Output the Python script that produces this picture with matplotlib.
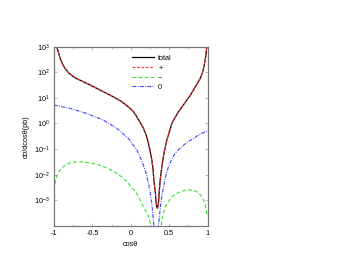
import numpy as np
import matplotlib
matplotlib.use("Agg")
from matplotlib import pyplot as plt
from matplotlib.ticker import FixedLocator, NullFormatter

plt.rcParams['font.family'] = ['Liberation Sans', 'DejaVu Sans']
plt.rcParams['mathtext.fontset'] = 'custom'
plt.rcParams['mathtext.rm'] = 'Liberation Sans'

# total (the "+" curve sits right on top of it), log10 values
cos_total = [-0.965, -0.94, -0.92, -0.89, -0.857, -0.81, -0.75, -0.69, -0.617, -0.487,
             -0.357, -0.226, -0.117, -0.009, 0.04, 0.078, 0.12, 0.165, 0.2, 0.23, 0.25,
             0.274, 0.29, 0.30, 0.32, 0.33, 0.34,
             0.35, 0.361, 0.372, 0.383, 0.40, 0.417, 0.44, 0.47, 0.50, 0.535, 0.58, 0.622,
             0.68, 0.73, 0.775, 0.817, 0.86, 0.904, 0.935, 0.957, 0.975, 0.991]
log_total = [3.0, 2.75, 2.54, 2.33, 2.15, 1.98, 1.83, 1.73, 1.63, 1.44,
             1.24, 1.04, 0.85, 0.59, 0.44, 0.26, 0.05, -0.19, -0.45, -0.78, -1.05,
             -1.43, -1.8, -2.2, -2.7, -3.1, -3.3,
             -3.3, -3.1, -2.6, -2.2, -1.8, -1.43, -1.05, -0.65, -0.35, 0.0, 0.25, 0.46,
             0.7, 0.91, 1.1, 1.31, 1.53, 1.76, 2.0, 2.28, 2.6, 3.0]

# "0" helicity
cos_zero = [-1.0, -0.79, -0.574, -0.357, -0.183, -0.03, 0.078, 0.12, 0.165, 0.2, 0.23,
            0.25, 0.274, 0.30, 0.335, 0.361, 0.39, 0.41, 0.435, 0.46, 0.49, 0.53, 0.578,
            0.63, 0.687, 0.75, 0.817, 0.87, 0.926, 0.96, 1.0]
log_zero = [0.72, 0.59, 0.39, 0.13, -0.19, -0.59, -1.04, -1.3, -1.63, -1.95, -2.35,
            -2.65, -3.13, -4.0, -6.0, -4.0, -3.13, -2.75, -2.35, -2.0, -1.7, -1.42, -1.17,
            -1.0, -0.85, -0.7, -0.59, -0.48, -0.39, -0.34, -0.29]

# "-" helicity
cos_minus = [-1.0, -0.985, -0.965, -0.94, -0.9, -0.86, -0.813, -0.74, -0.66, -0.53, -0.44,
             -0.357, -0.27, -0.183, -0.10, -0.03, 0.03, 0.078, 0.12, 0.165, 0.22, 0.265,
             0.333, 0.396, 0.42, 0.448, 0.49, 0.535, 0.59, 0.643, 0.71, 0.774, 0.82,
             0.861, 0.91, 0.948, 0.97, 0.991, 1.0]
log_minus = [-2.6, -2.3, -2.08, -1.9, -1.76, -1.64, -1.56, -1.51, -1.5, -1.54, -1.6,
             -1.69, -1.8, -1.95, -2.13, -2.35, -2.55, -2.74, -2.98, -3.26, -3.55, -4.0,
             -6.0, -4.0, -3.55, -3.26, -3.05, -2.87, -2.75, -2.67, -2.61, -2.6, -2.62,
             -2.67, -2.8, -3.0, -3.2, -3.52, -3.6]

ytick_exps = [-3, -2, -1, 0, 1, 2, 3]
xticks = [-1, -0.5, 0, 0.5, 1]
xtick_labels = ['-1', '-0.5', '0', '0.5', '1']

fig = plt.figure(figsize=(3.53, 2.73), dpi=100, facecolor='white')
ax = fig.add_axes([0.153, 0.173, 0.435, 0.656])

ax.plot(cos_total, 10.0 ** np.array(log_total), color='black', lw=0.9, label='total')
ax.plot(cos_total, 10.0 ** np.array(log_total), color='#ff3030', lw=0.8,
        dashes=(2.5, 1.5), label='+')
ax.plot(cos_minus, 10.0 ** np.array(log_minus), color='#33e633', lw=0.8,
        dashes=(3.5, 2), label='\u2013')
ax.plot(cos_zero, 10.0 ** np.array(log_zero), color='#4444ff', lw=0.8,
        dashes=(3.5, 1.2, 0.8, 1.2), label='0')

ax.set_yscale('log')
ax.set_xlim(-1, 1)
ax.set_ylim(1e-4, 1e3)

ax.yaxis.set_major_locator(FixedLocator([10.0 ** e for e in ytick_exps]))
ax.set_yticklabels([f'$10^{{{e}}}$' for e in ytick_exps])
ax.yaxis.set_minor_locator(FixedLocator([]))
ax.yaxis.set_minor_formatter(NullFormatter())
ax.set_xticks(xticks)
ax.set_xticklabels(xtick_labels)
ax.xaxis.set_minor_locator(FixedLocator([-0.75, -0.25, 0.25, 0.75]))

ax.tick_params(which='both', direction='in', top=True, right=True, length=2.5,
               width=0.4, colors='#888888', labelcolor='black', labelsize=5.2, pad=3)
ax.tick_params(which='minor', length=1.5)
for s in ax.spines.values():
    s.set_color('#777777')
    s.set_linewidth(0.9)

ax.set_xlabel('cos\u03b8', fontsize=5.2, labelpad=3)
ax.set_ylabel('d\u03c3/dcos\u03b8(pb)', fontsize=5.2, labelpad=3)

leg = ax.legend(loc='upper left', bbox_to_anchor=(0.49, 0.97), frameon=False,
                fontsize=5.2, handlelength=3.0, handletextpad=0.6,
                labelspacing=0.35, borderaxespad=0)

fig.savefig('out.png', dpi=100, facecolor='white')
